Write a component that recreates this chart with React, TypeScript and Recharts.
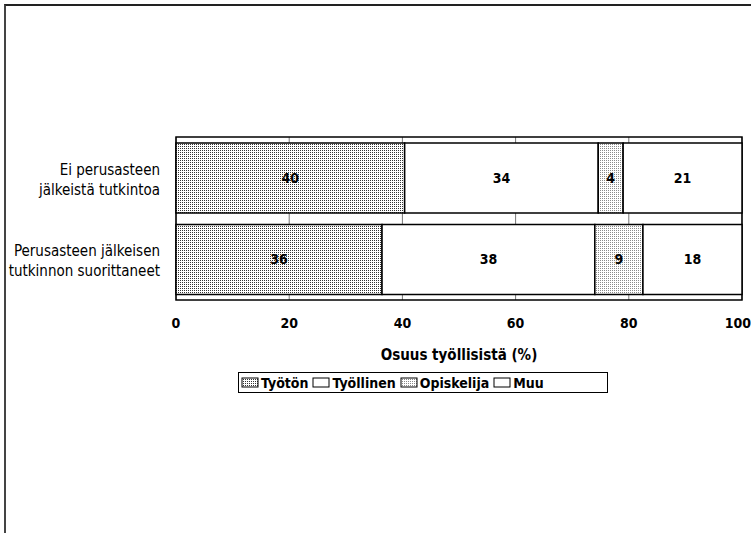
import { Bar, BarChart, CartesianGrid, LabelList, ReferenceArea, XAxis, YAxis } from "recharts"

const categories = ["Ei perusasteen\njälkeistä tutkintoa", "Perusasteen jälkeisen\ntutkinnon suorittaneet"]
const tyoton = [40.4, 36.4]
const tyollinen = [34.2, 37.6]
const opiskelija = [4.4, 8.5]
const muu = [21.0, 17.5]
const xTicks = [0, 20, 40, 60, 80, 100]

const data = categories.map((name, i) => ({
  name,
  tyoton: tyoton[i],
  tyollinen: tyollinen[i],
  opiskelija: opiskelija[i],
  muu: muu[i],
}))

const FONT = '"DejaVu Sans Condensed", "DejaVu Sans", sans-serif'
const txt = { fontFamily: FONT, fontStretch: "condensed" as const }

const series = [
  { key: "tyoton", name: "Työtön", fill: "url(#patTyoton)" },
  { key: "tyollinen", name: "Työllinen", fill: "#ffffff" },
  { key: "opiskelija", name: "Opiskelija", fill: "url(#patOpisk)" },
  { key: "muu", name: "Muu", fill: "#ffffff" },
]

function CategoryTick({ x, y, payload }: any) {
  const lines = String(payload.value).split("\n")
  return (
    <text x={x - 8} y={y} textAnchor="end" style={{ ...txt, fontSize: 15 }} fill="#000">
      {lines.map((line, i) => (
        <tspan key={i} x={x - 8} dy={i === 0 ? -3 : 20}>
          {line}
        </tspan>
      ))}
    </text>
  )
}

function LegendBox() {
  return (
    <div
      style={{
        position: "absolute",
        left: 238,
        top: 372,
        width: 370,
        height: 21,
        boxSizing: "border-box",
        border: "1.5px solid #000",
        display: "flex",
        alignItems: "center",
        gap: 4,
        padding: "0 2px",
        ...txt,
        fontWeight: "bold",
        fontSize: 14,
        background: "#fff",
      }}
    >
      {series.map((s) => (
        <span key={s.key} style={{ display: "flex", alignItems: "center" }}>
          <svg width={19} height={12} style={{ marginRight: 1 }}>
            <rect x={1} y={1} width={16} height={9} fill={s.fill} stroke="#000" strokeWidth={1} />
          </svg>
          {s.name}
        </span>
      ))}
    </div>
  )
}

export default function App() {
  return (
    <div style={{ position: "absolute", left: 0, top: 0, width: 751, height: 533, background: "#fff" }}>
      <div
        style={{
          position: "absolute",
          left: 4,
          top: 4,
          width: 747,
          height: 529,
          borderTop: "2px solid #222",
          borderLeft: "2px solid #444",
        }}
      />
      <BarChart
        width={751}
        height={533}
        layout="vertical"
        data={data}
        margin={{ top: 137, right: 9, bottom: 163, left: 0 }}
        barSize={70}
      >
        <defs>
          <pattern id="patTyoton" width="2" height="2" patternUnits="userSpaceOnUse">
            <rect width="2" height="2" fill="#ffffff" />
            <rect width="1" height="1" fill="#333333" />
          </pattern>
          <pattern id="patOpisk" width="2" height="2" patternUnits="userSpaceOnUse">
            <rect width="2" height="2" fill="#ffffff" />
            <rect width="1" height="1" fill="#8a8a8a" />
          </pattern>
        </defs>
        <CartesianGrid horizontal={false} stroke="#777" />
        <XAxis
          type="number"
          domain={[0, 100]}
          ticks={xTicks}
          tickLine={false}
          axisLine={false}
          tickMargin={12}
          height={70}
          tick={{ ...txt, fontWeight: "bold", fontSize: 14, fill: "#000" }}
          label={{
            value: "Osuus työllisistä (%)",
            position: "insideBottom",
            offset: 10,
            style: { ...txt, fontWeight: "bold", fontSize: 15, fill: "#000" },
          }}
        />
        <YAxis
          type="category"
          dataKey="name"
          width={176}
          tickLine={false}
          axisLine={false}
          tick={<CategoryTick />}
        />
        {series.map((s) => (
          <Bar
            key={s.key}
            dataKey={s.key}
            name={s.name}
            stackId="a"
            fill={s.fill}
            stroke="#000"
            strokeWidth={1.5}
            isAnimationActive={false}
          >
            <LabelList
              dataKey={s.key}
              position="center"
              formatter={(v: any) => Math.round(Number(v))}
              style={{ ...txt, fontWeight: "bold", fontSize: 14, fill: "#000" }}
            />
          </Bar>
        ))}
        <ReferenceArea x1={0} x2={100} fill="none" stroke="#000" strokeWidth={1.5} ifOverflow="visible" />
      </BarChart>
      <LegendBox />
    </div>
  )
}
